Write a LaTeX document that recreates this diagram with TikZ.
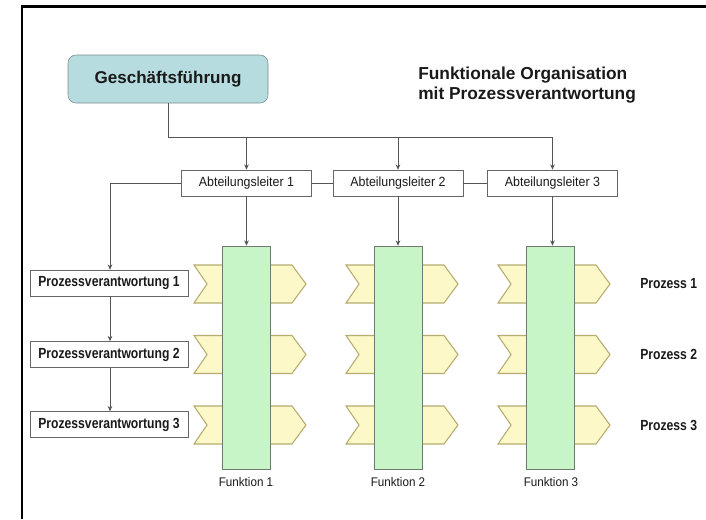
\documentclass[tikz,border=0pt]{standalone}
\usepackage{fontspec}
\setmainfont{Liberation Sans}
\newfontfamily\nb{Liberation Sans}[FakeStretch=0.83]
\newfontfamily\nr{Liberation Sans}[FakeStretch=0.93]
\usetikzlibrary{arrows.meta}
\definecolor{gfill}{HTML}{B6DCDF}
\definecolor{gline}{HTML}{7C8C8C}
\definecolor{colfill}{HTML}{C8F5C8}
\definecolor{colline}{HTML}{6E7A6E}
\definecolor{chfill}{HTML}{FCF8C8}
\definecolor{chline}{HTML}{B4AC70}
\definecolor{conn}{HTML}{555555}
\definecolor{txt}{HTML}{1A1A1A}
\begin{document}
\begin{tikzpicture}[x=0.75pt,y=-0.75pt,
  headbox/.style={draw=gline,fill=gfill,rounded corners=6pt,minimum width=200*0.75pt,minimum height=48*0.75pt,inner sep=0pt,
    font=\fontsize{12.8}{14}\selectfont\bfseries,text=txt},
  abtbox/.style={draw=gray!80!black,fill=white,minimum width=130*0.75pt,minimum height=26*0.75pt,inner sep=0pt,
    font=\nr\fontsize{10}{12}\selectfont,text=txt},
  pvbox/.style={draw=gray!80!black,fill=white,minimum width=158*0.75pt,minimum height=26*0.75pt,inner sep=0pt,
    font=\nb\fontsize{11}{13}\selectfont\bfseries,text=txt},
  colbox/.style={draw=colline,fill=colfill,minimum width=48*0.75pt,minimum height=223*0.75pt,inner sep=0pt},
  chev/.style={draw=chline,fill=chfill,line width=0.8pt},
  plabel/.style={anchor=west,inner sep=0pt,font=\nb\fontsize{11}{13}\selectfont\bfseries,text=txt},
  flabel/.style={inner sep=0pt,font=\nr\fontsize{9.4}{11}\selectfont,text=txt},
  line/.style={draw=conn,line width=0.75pt},
  arr/.style={line,-{Stealth[length=4pt,width=3.5pt]}}
]
\useasboundingbox (0,0) rectangle (706,519);
% frame
\draw[line width=2.2pt,black] (22,519) -- (22,6.5) -- (706,6.5);

% chevrons (behind columns)
\foreach \L in {222,374,526}{
  \foreach \m in {284,354.5,425}{
    \draw[chev] (\L-28,\m-19) -- (\L+70,\m-19) -- (\L+84,\m) -- (\L+70,\m+19) -- (\L-28,\m+19) -- (\L-15,\m) -- cycle;
  }
}

% nodes
\node[headbox] (gf) at (168,79) {Geschäftsführung};
\node[anchor=west,inner sep=0pt,align=left,font=\fontsize{13}{15}\selectfont\bfseries,text=txt] (title) at (418,85)
  {Funktionale Organisation\\mit Prozessverantwortung};

\node[abtbox] (abt1) at (246.5,183) {Abteilungsleiter 1};
\node[abtbox] (abt2) at (398,183) {Abteilungsleiter 2};
\node[abtbox] (abt3) at (552.5,183) {Abteilungsleiter 3};

\node[colbox] (f1) at (246,357.5) {};
\node[colbox] (f2) at (398,357.5) {};
\node[colbox] (f3) at (550.5,357.5) {};

\node[pvbox] (pv1) at (109,283) {Prozessverantwortung 1};
\node[pvbox] (pv2) at (109,354.5) {Prozessverantwortung 2};
\node[pvbox] (pv3) at (109,424.5) {Prozessverantwortung 3};

\node[plabel] (p1) at (640,284) {Prozess 1};
\node[plabel] (p2) at (640,354.5) {Prozess 2};
\node[plabel] (p3) at (640,425) {Prozess 3};

\node[flabel] (fl1) at (246,482) {Funktion 1};
\node[flabel] (fl2) at (398,482) {Funktion 2};
\node[flabel] (fl3) at (551,482) {Funktion 3};

% connectors
\coordinate (bus) at (0,137);
\coordinate (pvturn) at (110,0);
\draw[line] (gf.south) -- (gf.south |- bus) -- (abt3.north |- bus);
\draw[arr] (abt1.north |- bus) -- (abt1.north);
\draw[arr] (abt2.north |- bus) -- (abt2.north);
\draw[arr] (abt3.north |- bus) -- (abt3.north);
\draw[line] (abt1) -- (abt2);
\draw[line] (abt2) -- (abt3);
\draw[arr] (abt1.west) -- (abt1.west -| pvturn) -- (pv1.north -| pvturn);
\draw[arr] (abt1.south) -- (f1.north -| abt1.south);
\draw[arr] (abt2.south) -- (f2.north -| abt2.south);
\draw[arr] (abt3.south) -- (f3.north -| abt3.south);
\draw[arr] (pv1.south -| pvturn) -- (pv2.north -| pvturn);
\draw[arr] (pv2.south -| pvturn) -- (pv3.north -| pvturn);
\end{tikzpicture}
\end{document}
